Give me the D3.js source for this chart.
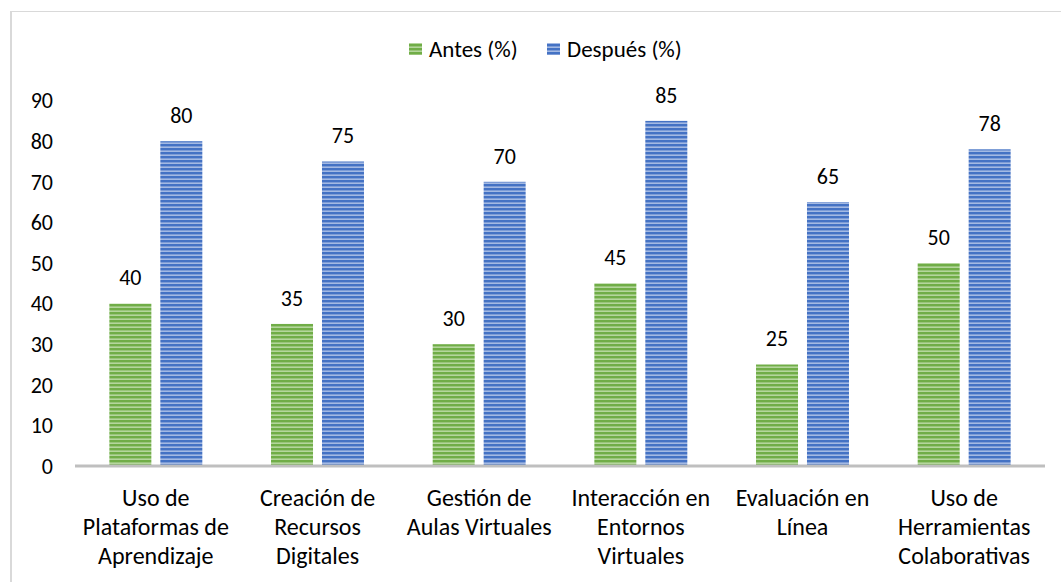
<!DOCTYPE html>
<html lang="es">
<head>
<meta charset="UTF-8">
<title>Antes / Después</title>
<script src="https://cdn.jsdelivr.net/npm/d3@7"></script>
<style>
  body { margin: 0; background: #fff; }
  svg text { font-family: Carlito, Calibri, Lato, "Open Sans", sans-serif; fill: #000; }
</style>
</head>
<body>
<div id="chart"></div>
<script>
// data
var categories = [
  "Uso de Plataformas de Aprendizaje",
  "Creación de Recursos Digitales",
  "Gestión de Aulas Virtuales",
  "Interacción en Entornos Virtuales",
  "Evaluación en Línea",
  "Uso de Herramientas Colaborativas"
];
var categoryLines = [
  ["Uso de", "Plataformas de", "Aprendizaje"],
  ["Creación de", "Recursos", "Digitales"],
  ["Gestión de", "Aulas Virtuales"],
  ["Interacción en", "Entornos", "Virtuales"],
  ["Evaluación en", "Línea"],
  ["Uso de", "Herramientas", "Colaborativas"]
];
var antes = [40, 35, 30, 45, 25, 50];
var despues = [80, 75, 70, 85, 65, 78];
var seriesNames = ["Antes (%)", "Después (%)"];
var yTicks = [0, 10, 20, 30, 40, 50, 60, 70, 80, 90];

var w = 1061, h = 582;
var svg = d3.select("#chart").append("svg")
  .attr("width", w)
  .attr("height", h);

// stripe patterns
var defs = svg.append("defs");
var colors = [
  { id: "pat-antes", main: "#70ad47", light: "#b4d69c" },
  { id: "pat-despues", main: "#4472c4", light: "#a3b9e3" }
];
colors.forEach(function(c) {
  var p = defs.append("pattern")
    .attr("id", c.id)
    .attr("patternUnits", "userSpaceOnUse")
    .attr("width", 8)
    .attr("height", 4);
  p.append("rect").attr("width", 8).attr("height", 4).attr("fill", c.light);
  p.append("rect").attr("width", 8).attr("height", 2.4).attr("fill", c.main);
});

// frame
svg.append("line")
  .attr("x1", 11).attr("x2", 11).attr("y1", 11).attr("y2", h)
  .attr("stroke", "#d9d9d9").attr("stroke-width", 2);
svg.append("line")
  .attr("x1", 11).attr("x2", w).attr("y1", 11.5).attr("y2", 11.5)
  .attr("stroke", "#d9d9d9").attr("stroke-width", 1);

var yScale = d3.scaleLinear()
  .domain([0, 90])
  .range([466, 100.6]);

var x0 = d3.scaleBand()
  .domain(categories)
  .range([75, 1045])
  .paddingInner(0.425)
  .paddingOuter(0.2125);

var x1 = d3.scaleBand()
  .domain(seriesNames)
  .range([0, x0.bandwidth()])
  .paddingInner(0.176);

var rows = categories.map(function(c, i) {
  return { cat: c, vals: [
    { s: seriesNames[0], v: antes[i], fill: "url(#pat-antes)" },
    { s: seriesNames[1], v: despues[i], fill: "url(#pat-despues)" }
  ]};
});

// y axis labels
svg.selectAll(".ytick")
  .data(yTicks)
  .enter()
  .append("text")
  .attr("class", "ytick")
  .attr("x", 53)
  .attr("y", function(d) { return yScale(d); })
  .attr("dy", "0.35em")
  .attr("text-anchor", "end")
  .attr("font-size", "22px")
  .text(function(d) { return d; });

// bars
var groups = svg.selectAll(".grp")
  .data(rows)
  .enter()
  .append("g")
  .attr("class", "grp")
  .attr("transform", function(d) { return "translate(" + x0(d.cat) + ",0)"; });

groups.selectAll("rect")
  .data(function(d) { return d.vals; })
  .enter()
  .append("rect")
  .attr("x", function(d) { return x1(d.s); })
  .attr("y", function(d) { return yScale(d.v); })
  .attr("width", x1.bandwidth())
  .attr("height", function(d) { return yScale(0) - yScale(d.v); })
  .attr("fill", function(d) { return d.fill; });

groups.selectAll(".val")
  .data(function(d) { return d.vals; })
  .enter()
  .append("text")
  .attr("class", "val")
  .attr("x", function(d) { return x1(d.s) + x1.bandwidth() / 2; })
  .attr("y", function(d) { return yScale(d.v) - 26; })
  .attr("dy", "0.35em")
  .attr("text-anchor", "middle")
  .attr("font-size", "22px")
  .text(function(d) { return d.v; });

// x axis line
svg.append("line")
  .attr("x1", 75).attr("x2", 1045)
  .attr("y1", yScale(0)).attr("y2", yScale(0))
  .attr("stroke", "#bfbfbf").attr("stroke-width", 3);

// category labels
svg.selectAll(".cat")
  .data(categories)
  .enter()
  .append("text")
  .attr("class", "cat")
  .attr("text-anchor", "middle")
  .attr("font-size", "24px")
  .each(function(d, i) {
    var t = d3.select(this);
    var cx = x0(d) + x0.bandwidth() / 2;
    categoryLines[i].forEach(function(line, j) {
      t.append("tspan")
        .attr("x", cx)
        .attr("y", 498 + j * 29)
        .attr("dy", "0.35em")
        .text(line);
    });
  });

// legend
var legend = svg.append("g");
var legendItems = [
  { name: seriesNames[0], fill: "url(#pat-antes)", x: 409 },
  { name: seriesNames[1], fill: "url(#pat-despues)", x: 547 }
];
legendItems.forEach(function(d) {
  legend.append("rect")
    .attr("x", d.x).attr("y", 43)
    .attr("width", 13).attr("height", 12)
    .attr("fill", d.fill);
  legend.append("text")
    .attr("x", d.x + 20)
    .attr("y", 49)
    .attr("dy", "0.35em")
    .attr("font-size", "23px")
    .text(d.name);
});
</script>
</body>
</html>
